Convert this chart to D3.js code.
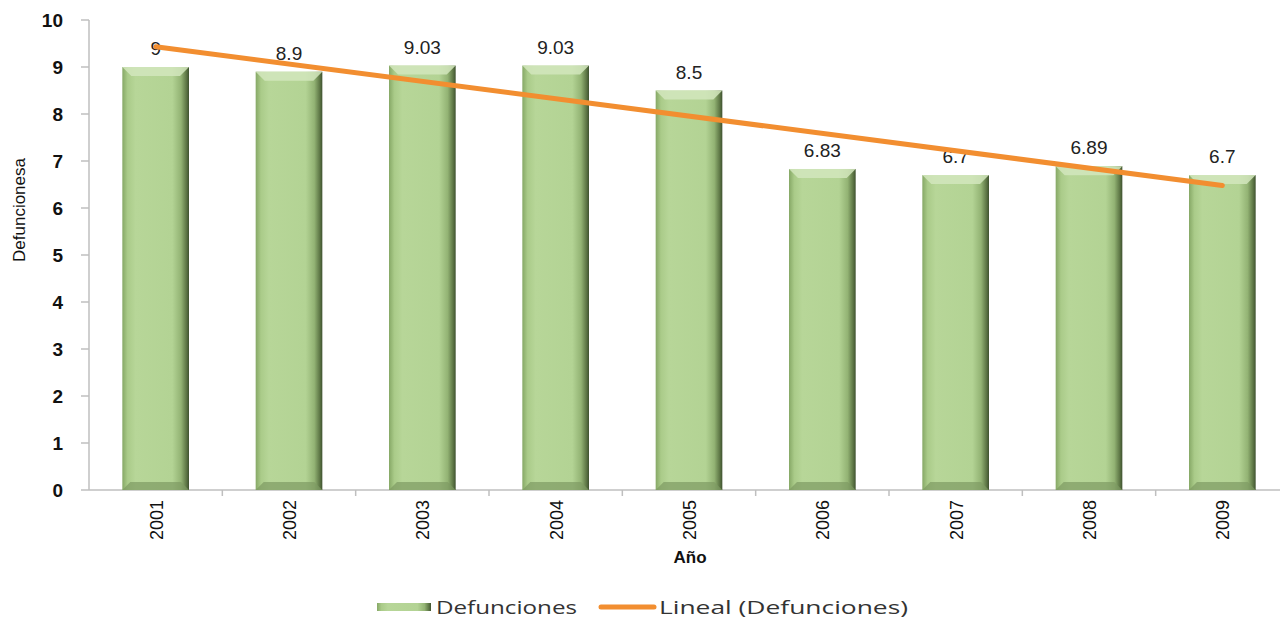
<!DOCTYPE html>
<html>
<head>
<meta charset="utf-8">
<script src="https://cdn.jsdelivr.net/npm/d3@7"></script>
<style>
  body { margin: 0; background: #fff; }
  svg text { font-family: "Liberation Sans", Arial, sans-serif; }
  svg text.legend { font-family: "Open Sans", sans-serif; }
</style>
</head>
<body>
<svg id="chart" width="1280" height="620"></svg>
<script>
// data
const years = ["2001", "2002", "2003", "2004", "2005", "2006", "2007", "2008", "2009"];
const defunciones = [9, 8.9, 9.03, 9.03, 8.5, 6.83, 6.7, 6.89, 6.7];
const valueLabels = ["9", "8.9", "9.03", "9.03", "8.5", "6.83", "6.7", "6.89", "6.7"];
const yTicks = [0, 1, 2, 3, 4, 5, 6, 7, 8, 9, 10];
// trend line (Lineal) end values, first and last year
const trendEnds = [9.43, 6.48];

const svg = d3.select("#chart");
const plotLeft = 89, plotTop = 20, plotBottom = 490, plotRight = 1289;

const x = d3.scaleBand().domain(years).range([plotLeft, plotRight]).paddingInner(0.5).paddingOuter(0.25);
const band = d3.scaleBand().domain(years).range([plotLeft, plotRight]);
const y = d3.scaleLinear().domain([0, 10]).range([plotBottom, plotTop]);

const defs = svg.append("defs");
const g = defs.append("linearGradient").attr("id", "barGrad").attr("x1", 0).attr("x2", 1).attr("y1", 0).attr("y2", 0);
[[0, "#86a866"], [0.08, "#aacb89"], [0.2, "#b7d698"], [0.75, "#b3d394"], [0.88, "#93b374"], [0.96, "#5e7746"], [1, "#3f5230"]]
  .forEach(s => g.append("stop").attr("offset", s[0]).attr("stop-color", s[1]));

// axes
svg.append("line").attr("x1", plotLeft).attr("x2", plotLeft).attr("y1", plotTop).attr("y2", plotBottom)
  .attr("stroke", "#bfbfbf").attr("stroke-width", 1.5);
svg.append("line").attr("x1", plotLeft).attr("x2", plotRight).attr("y1", plotBottom).attr("y2", plotBottom)
  .attr("stroke", "#bfbfbf").attr("stroke-width", 1.5);

svg.selectAll(".ytick").data(yTicks).enter().append("line")
  .attr("x1", plotLeft - 8).attr("x2", plotLeft).attr("y1", d => y(d)).attr("y2", d => y(d))
  .attr("stroke", "#bfbfbf").attr("stroke-width", 1.5);
svg.selectAll(".ylab").data(yTicks).enter().append("text")
  .attr("x", 63).attr("y", d => y(d) + 7).attr("text-anchor", "end")
  .attr("font-size", 19).attr("font-weight", "bold").attr("fill", "#111").text(d => d);

svg.selectAll(".xtick").data(years.slice(1)).enter().append("line")
  .attr("x1", d => band(d)).attr("x2", d => band(d)).attr("y1", plotBottom).attr("y2", plotBottom + 6)
  .attr("stroke", "#bfbfbf").attr("stroke-width", 1.5);

// bars
const bars = svg.selectAll(".bar").data(years).enter().append("g");
bars.append("rect")
  .attr("x", d => x(d)).attr("y", (d, i) => y(defunciones[i]))
  .attr("width", x.bandwidth()).attr("height", (d, i) => plotBottom - y(defunciones[i]))
  .attr("fill", "url(#barGrad)");
// top bevel
bars.append("path")
  .attr("d", (d, i) => {
    const x0 = x(d), x1 = x(d) + x.bandwidth(), t = y(defunciones[i]), b = 9;
    return `M${x0},${t}L${x1},${t}L${x1 - b},${t + b}L${x0 + b},${t + b}Z`;
  })
  .attr("fill", "#d2e6bd").attr("opacity", 0.85);
// bottom bevel
bars.append("path")
  .attr("d", d => {
    const x0 = x(d), x1 = x(d) + x.bandwidth(), b = 8;
    return `M${x0},${plotBottom}L${x1},${plotBottom}L${x1 - b},${plotBottom - b}L${x0 + b},${plotBottom - b}Z`;
  })
  .attr("fill", "#7e9a62").attr("opacity", 0.7);

// value labels
svg.selectAll(".vlab").data(years).enter().append("text")
  .attr("x", d => x(d) + x.bandwidth() / 2).attr("y", (d, i) => y(defunciones[i]) - 12)
  .attr("text-anchor", "middle").attr("font-size", 19).attr("fill", "#222")
  .text((d, i) => valueLabels[i]);

// trend line
svg.append("line")
  .attr("x1", x(years[0]) + x.bandwidth() / 2).attr("y1", y(trendEnds[0]))
  .attr("x2", x(years[years.length - 1]) + x.bandwidth() / 2).attr("y2", y(trendEnds[1]))
  .attr("stroke", "#f28e30").attr("stroke-width", 5).attr("stroke-linecap", "round");

// x labels
svg.selectAll(".xlab").data(years).enter().append("text")
  .attr("transform", d => `translate(${x(d) + x.bandwidth() / 2 + 7},${plotBottom + 10}) rotate(-90)`)
  .attr("text-anchor", "end").attr("font-size", 18).attr("fill", "#111").text(d => d);

// axis titles
svg.append("text").attr("x", 690).attr("y", 563).attr("text-anchor", "middle")
  .attr("font-size", 17).attr("font-weight", "bold").attr("fill", "#111").text("Año");
svg.append("text").attr("transform", "translate(25,210) rotate(-90)").attr("text-anchor", "middle")
  .attr("font-size", 17).style("font-family", "'Liberation Sans Narrow', 'Arial Narrow', sans-serif")
  .attr("fill", "#111").text("Defuncionesa");

// legend
const lg = svg.append("g");
lg.append("rect").attr("x", 377).attr("y", 603).attr("width", 54).attr("height", 8).attr("fill", "url(#barGrad)");
lg.append("text").attr("class", "legend").attr("x", 436).attr("y", 614).attr("font-size", 18)
  .attr("textLength", 141).attr("lengthAdjust", "spacingAndGlyphs").attr("fill", "#333").text("Defunciones");
lg.append("line").attr("x1", 601).attr("x2", 654).attr("y1", 607).attr("y2", 607)
  .attr("stroke", "#f28e30").attr("stroke-width", 5).attr("stroke-linecap", "round");
lg.append("text").attr("class", "legend").attr("x", 659).attr("y", 614).attr("font-size", 18)
  .attr("textLength", 249).attr("lengthAdjust", "spacingAndGlyphs").attr("fill", "#333").text("Lineal (Defunciones)");
</script>
</body>
</html>
